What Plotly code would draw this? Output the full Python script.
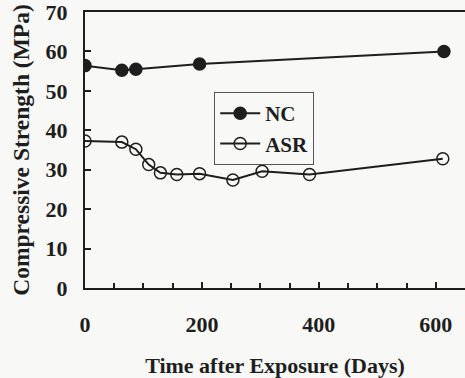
import plotly.graph_objects as go

nc_days = [0, 63, 87, 196, 614]
nc_strength = [56.4, 55.2, 55.5, 56.8, 60.0]

asr_days = [0, 63, 87, 109, 129, 157, 196, 253, 303, 384, 612]
asr_strength = [37.3, 37.0, 35.2, 31.3, 29.2, 28.8, 29.0, 27.4, 29.6, 28.8, 32.8]

x_ticks = [0, 200, 400, 600]
y_ticks = [0, 10, 20, 30, 40, 50, 60, 70]

ink = "#1e1e1e"
font_family = "Liberation Serif, Times New Roman, serif"
fs = 22

fig = go.Figure()
fig.add_trace(go.Scatter(
    x=nc_days, y=nc_strength, name="NC", mode="lines+markers",
    line=dict(color=ink, width=2),
    marker=dict(symbol="circle", size=12, color=ink, line=dict(color=ink, width=1.5)),
))
fig.add_trace(go.Scatter(
    x=asr_days, y=asr_strength, name="ASR", mode="lines+markers",
    line=dict(color=ink, width=2),
    marker=dict(symbol="circle-open", size=12, color=ink, line=dict(color=ink, width=1.5)),
))

fig.update_layout(
    width=465, height=378,
    margin=dict(l=85, r=0, t=9, b=90),
    paper_bgcolor="#f8f8f6", plot_bgcolor="#f8f8f6",
    font=dict(family=font_family, size=fs, color=ink),
    showlegend=True,
    legend=dict(
        x=0.34, y=0.71, xanchor="left", yanchor="top",
        bgcolor="#f8f8f6", bordercolor="#555", borderwidth=1,
        font=dict(family=font_family, size=21, color=ink, weight="bold"),
        itemwidth=40, tracegroupgap=0,
    ),
)
fig.update_xaxes(
    range=[0, 650], tickvals=x_ticks, ticktext=[str(v) for v in x_ticks],
    ticks="inside", ticklen=6, tickwidth=1.5, tickcolor=ink,
    minor=dict(dtick=50, tick0=0, ticks="inside", ticklen=5, tickwidth=1.5, tickcolor=ink),
    showline=True, linecolor=ink, linewidth=2, mirror=True,
    showgrid=False, zeroline=False,
    tickfont=dict(family=font_family, size=fs, color=ink, weight="bold"),
    ticklabelstandoff=16, ticklabeloverflow="allow",
    title=dict(text="Time after Exposure (Days)", standoff=24,
               font=dict(family=font_family, size=fs, color=ink, weight="bold")),
)
fig.update_yaxes(
    range=[0, 70], tickvals=y_ticks, ticktext=[str(v) for v in y_ticks],
    ticks="inside", ticklen=6, tickwidth=1.5, tickcolor=ink,
    showline=True, linecolor=ink, linewidth=2, mirror=False,
    showgrid=False, zeroline=False,
    tickfont=dict(family=font_family, size=fs, color=ink, weight="bold"),
    ticklabelstandoff=11, ticklabeloverflow="allow",
    title=dict(text="Compressive Strength (MPa)", standoff=9,
               font=dict(family=font_family, size=23.5, color=ink, weight="bold")),
)

fig.write_html("out.html")
